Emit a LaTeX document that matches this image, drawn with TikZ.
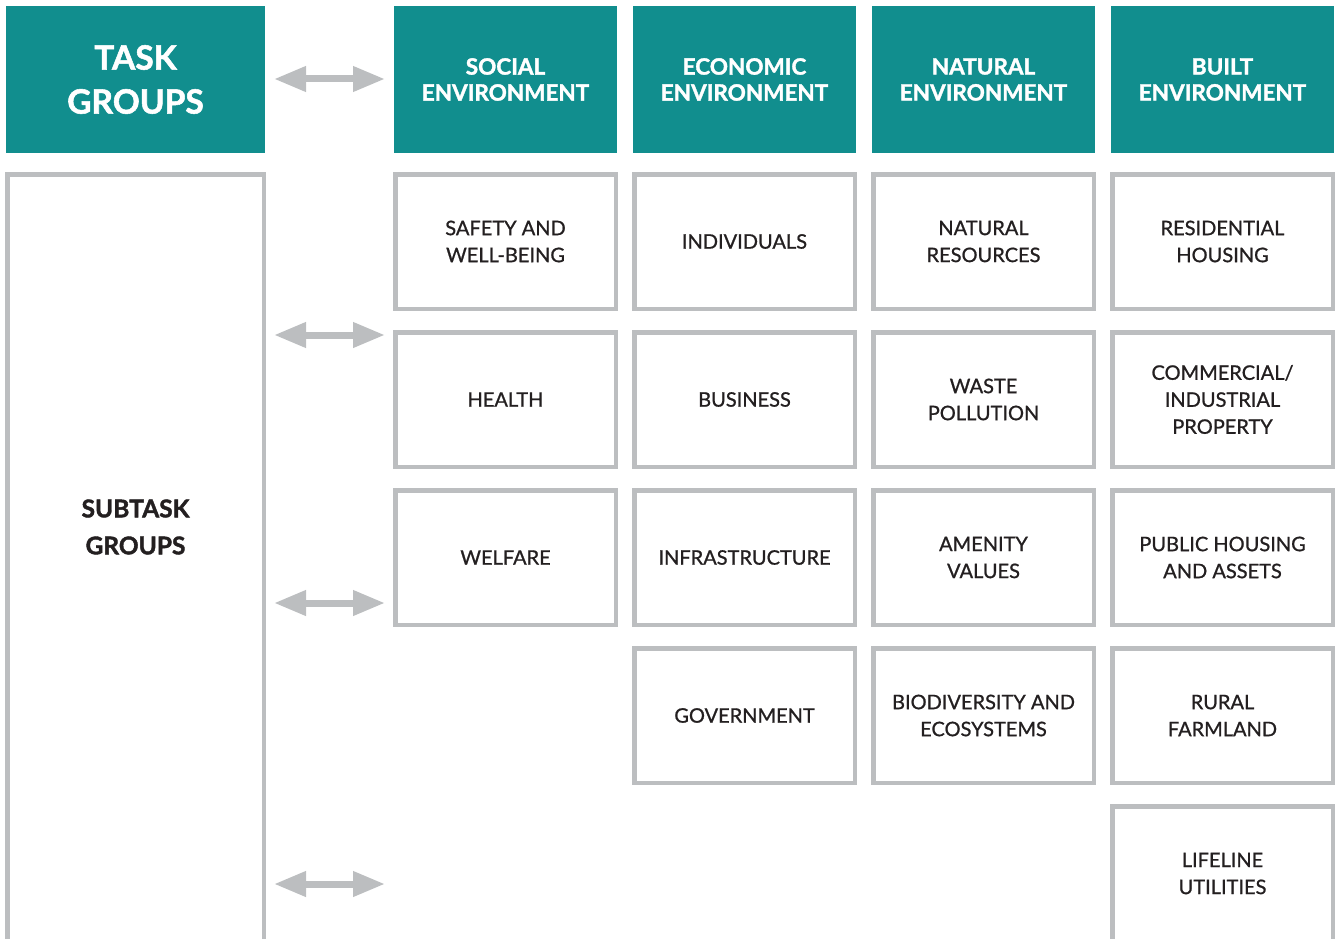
\documentclass[tikz,border=0pt]{standalone}
\usepackage{fontspec}
\setmainfont{Lato}
\newfontfamily\medfont[FakeBold=0.9]{Lato}
\newfontfamily\heavyfont[BoldFeatures={FakeBold=1.6}]{Lato}
\usepackage{tikz}
\usetikzlibrary{arrows.meta}
\definecolor{tealhead}{HTML}{118E8E}
\definecolor{greyline}{HTML}{BCBEC0}
\definecolor{inkdark}{HTML}{231F20}
\tikzset{>=latex}
\tikzstyle{head} = [fill=tealhead, text=white, align=center, inner sep=0, minimum width=223pt, minimum height=147pt, font=\heavyfont\bfseries\fontsize{22.5}{26}\selectfont]
\tikzstyle{cell} = [draw=greyline, line width=4.5pt, fill=white, text=inkdark, align=center, inner sep=0, minimum width=220.5pt, minimum height=134.5pt, font=\medfont\fontsize{20}{27}\selectfont]
\tikzstyle{link} = [{Triangle[length=32pt,width=24pt]}-{Triangle[length=32pt,width=24pt]}, draw=greyline, line width=7pt]

\begin{document}
\begin{tikzpicture}[x=1pt, y=-1pt]
\useasboundingbox (0,0) rectangle (1338,939);
%\node [draw=none] at (669,20) {groups};
\node [head, minimum width=259pt, font=\heavyfont\bfseries\fontsize{33.5}{44}\selectfont] (TG) at (135.5, 79.5) {TASK\\GROUPS};
\node [head] (HS) at (505.5, 79.5) {SOCIAL\\ENVIRONMENT};
\node [head] (HE) at (744.5, 79.5) {ECONOMIC\\ENVIRONMENT};
\node [head] (HN) at (983.5, 79.5) {NATURAL\\ENVIRONMENT};
\node [head] (HB) at (1222.5, 79.5) {BUILT\\ENVIRONMENT};

\node [cell, minimum width=256.5pt, minimum height=766.5pt] (SG) at (135.5, 557.5) {};
\node [draw=none, text=inkdark, align=center, font=\heavyfont\bfseries\fontsize{24.5}{37}\selectfont] (SGt) at (135.5, 527) {SUBTASK\\GROUPS};

% social
\node [cell] (S1) at (505.5, 241.5) {SAFETY AND\\WELL-BEING};
\node [cell] (S2) at (505.5, 399.5) {HEALTH};
\node [cell] (S3) at (505.5, 557.5) {WELFARE};
% economic
\node [cell] (E1) at (744.5, 241.5) {INDIVIDUALS};
\node [cell] (E2) at (744.5, 399.5) {BUSINESS};
\node [cell] (E3) at (744.5, 557.5) {INFRASTRUCTURE};
\node [cell] (E4) at (744.5, 715.5) {GOVERNMENT};
% natural
\node [cell] (N1) at (983.5, 241.5) {NATURAL\\RESOURCES};
\node [cell] (N2) at (983.5, 399.5) {WASTE\\POLLUTION};
\node [cell] (N3) at (983.5, 557.5) {AMENITY\\VALUES};
\node [cell] (N4) at (983.5, 715.5) {BIODIVERSITY AND\\ECOSYSTEMS};
% built
\node [cell] (B1) at (1222.5, 241.5) {RESIDENTIAL\\HOUSING};
\node [cell] (B2) at (1222.5, 399.5) {COMMERCIAL/\\INDUSTRIAL\\PROPERTY};
\node [cell] (B3) at (1222.5, 557.5) {PUBLIC HOUSING\\AND ASSETS};
\node [cell] (B4) at (1222.5, 715.5) {RURAL\\FARMLAND};
\node [cell] (B5) at (1222.5, 873.5) {LIFELINE\\UTILITIES};

\coordinate (L1) at (274, 79);
\coordinate (R1) at (385, 79);
\coordinate (L2) at (274, 335);
\coordinate (R2) at (385, 335);
\coordinate (L3) at (274, 603);
\coordinate (R3) at (385, 603);
\coordinate (L4) at (274, 884);
\coordinate (R4) at (385, 884);
\draw [link] (L1) to (R1);
\draw [link] (L2) to (R2);
\draw [link] (L3) to (R3);
\draw [link] (L4) to (R4);
\end{tikzpicture}
\end{document}
